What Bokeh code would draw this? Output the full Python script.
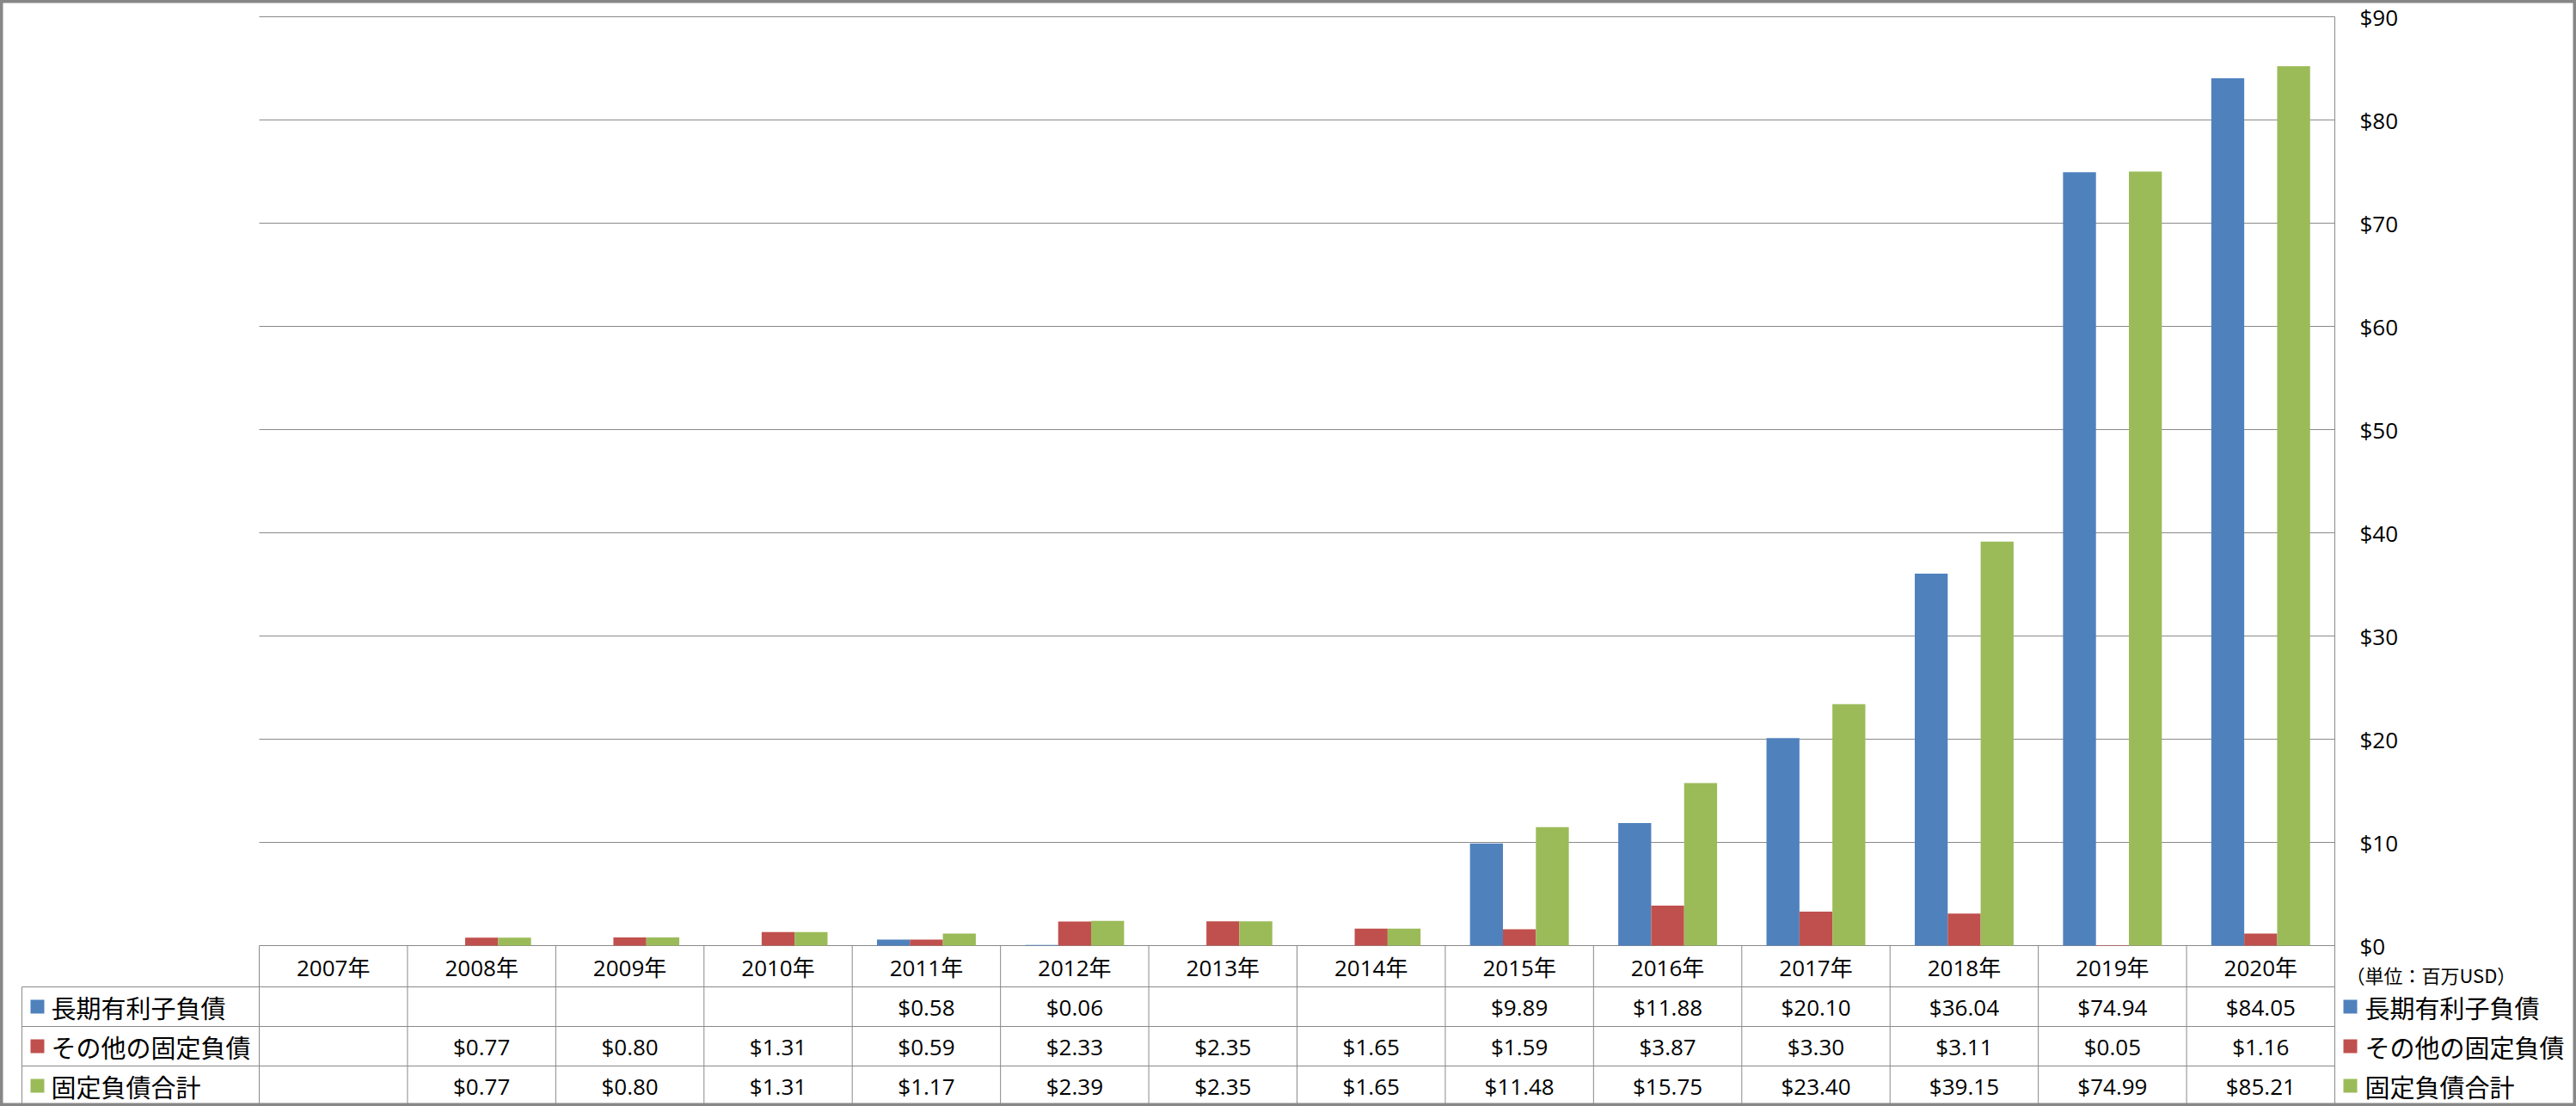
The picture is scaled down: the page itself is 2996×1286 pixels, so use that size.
import numpy as np
from bokeh.plotting import figure
from bokeh.models import ColumnDataSource, Range1d
from bokeh.core.properties import value
from bokeh.transform import dodge
from bokeh.embed import file_html
from bokeh.resources import INLINE

# ---------------- data ----------------
years = ["2007年", "2008年", "2009年", "2010年", "2011年", "2012年", "2013年",
         "2014年", "2015年", "2016年", "2017年", "2018年", "2019年", "2020年"]
series_names = ["長期有利子負債", "その他の固定負債", "固定負債合計"]
long_term_debt = [None, None, None, None, 0.58, 0.06, None, None,
                  9.89, 11.88, 20.10, 36.04, 74.94, 84.05]
other_fixed = [None, 0.77, 0.80, 1.31, 0.59, 2.33, 2.35, 1.65,
               1.59, 3.87, 3.30, 3.11, 0.05, 1.16]
total_fixed = [None, 0.77, 0.80, 1.31, 1.17, 2.39, 2.35, 1.65,
               11.48, 15.75, 23.40, 39.15, 74.99, 85.21]
y_ticks = [0, 10, 20, 30, 40, 50, 60, 70, 80, 90]
unit_label = "（単位：百万USD）"

# ---------------- styles / layout ----------------
colors = ["#4F81BD", "#C0504D", "#9BBB59"]
W, H = 2996, 1286
PL, PR, PT, PB = 301, 2715, 19, 1099          # plot area in pixels
n = len(years)
ymax = y_ticks[-1]
px_x = (PR - PL) / n
px_y = (PB - PT) / ymax


def X(px):
    return (px - PL) / px_x


def Y(py):
    return (PB - py) / px_y


NUM_FONT = value("Open Sans, Noto Sans CJK JP")
CJK_FONT = value("Noto Sans CJK JP")
GRID = "#8a8a8a"

p = figure(width=W, height=H, output_backend="svg", toolbar_location=None,
           x_range=Range1d(X(0), X(W)), y_range=Range1d(Y(H), Y(0)),
           x_axis_type=None, y_axis_type=None, min_border=0,
           background_fill_color="white", border_fill_color="white")
p.grid.visible = False
p.outline_line_color = "#878787"
p.outline_line_width = 6

# gridlines
p.segment(x0=[0] * len(y_ticks), x1=[n] * len(y_ticks), y0=y_ticks, y1=y_ticks,
          line_color=GRID, line_width=1)

# bars
def nan(v):
    return [np.nan if a is None else a for a in v]


src = ColumnDataSource(dict(
    x=[i + 0.5 for i in range(n)],
    a=nan(long_term_debt), b=nan(other_fixed), c=nan(total_fixed)))
bw = 2 / 9
for col, off, colr in zip(["a", "b", "c"], [-bw, 0, bw], colors):
    p.vbar(x=dodge("x", off, range=p.x_range), top=col, bottom=0, width=bw,
           source=src, fill_color=colr, line_color=None)

# y tick labels (right side)
p.text(x=[X(2744)] * len(y_ticks), y=y_ticks, text=[f"${t}" for t in y_ticks],
       text_font=NUM_FONT, text_font_size="26px", text_color="#000000",
       text_align="left", text_baseline="middle")
p.text(x=[X(2728)], y=[Y(1132)], text=[unit_label], text_font=CJK_FONT,
       text_font_size="22px", text_color="#000000",
       text_align="left", text_baseline="middle")

# data table lines
hb, r1, r2, bot = Y(1147), Y(1193), Y(1239), Y(H)
left = X(25)
p.segment(x0=[left] * 3, x1=[n] * 3, y0=[hb, r1, r2], y1=[hb, r1, r2],
          line_color=GRID, line_width=1)
p.segment(x0=list(range(n)), x1=list(range(n)), y0=[0] * n, y1=[bot] * n,
          line_color=GRID, line_width=1)
p.segment(x0=[n, left], x1=[n, left], y0=[ymax, hb], y1=[bot, bot],
          line_color=GRID, line_width=1)

# header row
p.text(x=[i + 0.5 for i in range(n)], y=[Y(1124)] * n, text=years,
       text_font=NUM_FONT, text_font_size="26px", text_color="#000000",
       text_align="center", text_baseline="middle")

# value rows + legends
row_y = [Y(1170), Y(1216), Y(1262)]
for vals, ry, colr, name in zip([long_term_debt, other_fixed, total_fixed],
                                row_y, colors, series_names):
    labels = ["" if v is None else f"${v:.2f}" for v in vals]
    p.text(x=[i + 0.5 for i in range(n)], y=[ry] * n, text=labels,
           text_font=NUM_FONT, text_font_size="26px", text_color="#000000",
           text_align="center", text_baseline="middle")
    p.scatter(x=[X(43), X(2733)], y=[ry, ry], marker="square", size=16,
              fill_color=colr, line_color=None)
    p.text(x=[X(59), X(2750)], y=[ry, ry], text=[name, name],
           text_font=CJK_FONT, text_font_size="29px", text_color="#000000",
           text_align="left", text_baseline="middle")

open("out.html", "w").write(file_html(p, INLINE))
